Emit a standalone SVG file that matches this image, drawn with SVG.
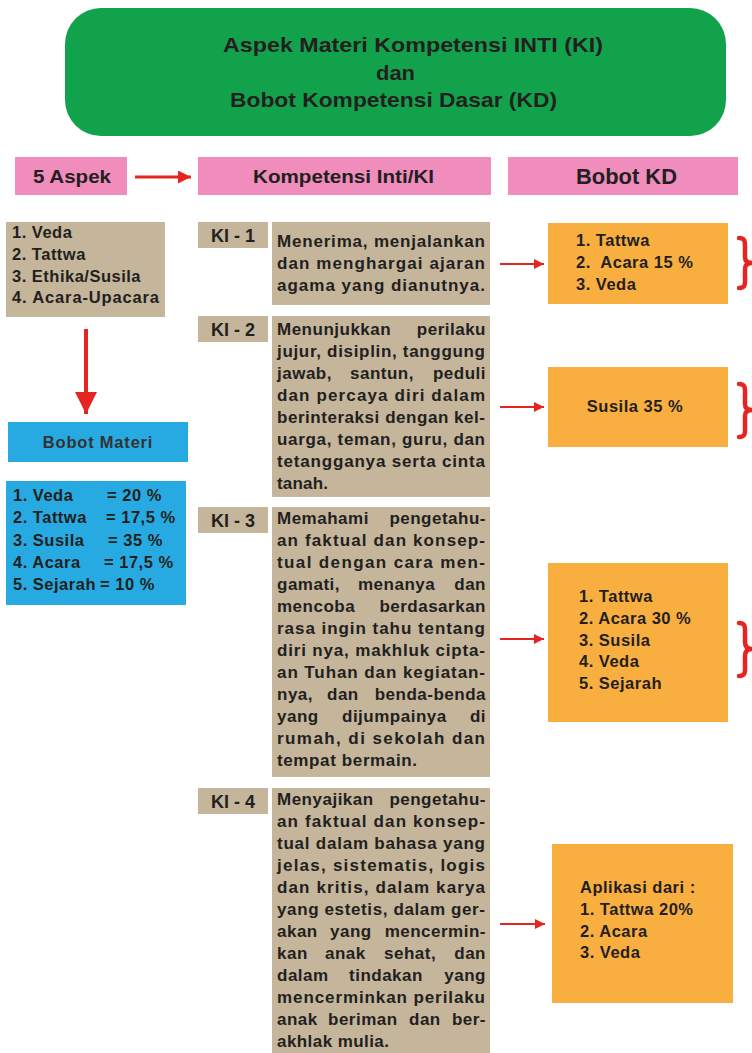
<svg xmlns="http://www.w3.org/2000/svg" width="752" height="1053" viewBox="0 0 752 1053">
<style>
.t{font-family:"Liberation Sans",Arial,Helvetica,sans-serif;font-weight:bold;fill:#231f20}
.b{font-size:16.5px}
.k{font-size:17px}
.ls{letter-spacing:0.5px}
.e{text-anchor:end}
.tan{fill:#c4b59b}
.pink{fill:#f08dbd}
.blue{fill:#27aae1}
.org{fill:#f9ae40}
.con{stroke:#e52521;fill:none}
.brace{stroke:#e52521;stroke-width:4.5;fill:none;stroke-linecap:round}
</style>
<defs>
<marker id="ah" viewBox="0 0 10 10" refX="10" refY="5" markerUnits="userSpaceOnUse" markerWidth="15" markerHeight="10" orient="auto"><path d="M0,0 L10,5 L0,10 z" fill="#e52521"/></marker>
<marker id="ahm" viewBox="0 0 10 10" refX="10" refY="5" markerUnits="userSpaceOnUse" markerWidth="19" markerHeight="13" orient="auto"><path d="M0,0 L10,5 L0,10 z" fill="#e52521"/></marker>
<marker id="ahb" viewBox="0 0 10 10" refX="10" refY="5" markerUnits="userSpaceOnUse" markerWidth="42" markerHeight="22" orient="auto"><path d="M0,0 L10,5 L0,10 z" fill="#e52521"/></marker>
</defs>
<rect width="752" height="1053" fill="#ffffff"/>

<g id="title">
<rect x="65" y="8" width="661" height="128" rx="36" ry="36" fill="#12a24c"/>
<text class="t" x="223" y="52" font-size="20.5" textLength="380" lengthAdjust="spacingAndGlyphs">Aspek Materi Kompetensi INTI (KI)</text>
<text class="t" x="376" y="80" font-size="20.5" textLength="39" lengthAdjust="spacingAndGlyphs">dan</text>
<text class="t" x="230" y="107" font-size="20.5" textLength="327" lengthAdjust="spacingAndGlyphs">Bobot Kompetensi Dasar (KD)</text>
</g>

<g id="hdr-aspek">
<rect class="pink" x="15" y="157" width="112" height="38"/>
<text class="t" x="33" y="183" font-size="18" textLength="78" lengthAdjust="spacingAndGlyphs">5 Aspek</text>
</g>
<g id="hdr-ki">
<rect class="pink" x="198" y="157" width="293" height="38"/>
<text class="t" x="253" y="183" font-size="18" textLength="181" lengthAdjust="spacingAndGlyphs">Kompetensi Inti/KI</text>
</g>
<g id="hdr-kd">
<rect class="pink" x="508" y="157" width="230" height="38"/>
<text class="t" x="576" y="184" font-size="21.5" textLength="101" lengthAdjust="spacingAndGlyphs">Bobot KD</text>
</g>

<g id="aspek-list">
<rect class="tan" x="6" y="222" width="159" height="95"/>
<text class="t b ls" x="12" y="238">1. Veda</text>
<text class="t b ls" x="12" y="260">2. Tattwa</text>
<text class="t b ls" x="12" y="282">3. Ethika/Susila</text>
<text class="t b" x="12" y="303" textLength="147">4. Acara-Upacara</text>
</g>

<g id="bobot-materi">
<rect class="blue" x="8" y="422" width="180" height="40"/>
<text class="t b" x="98" y="448" text-anchor="middle" letter-spacing="0.8" style="fill:#333333">Bobot Materi</text>
</g>

<g id="bobot-list">
<rect class="blue" x="6" y="481" width="180" height="124"/>
<text class="t b ls" x="13" y="501">1. Veda</text><text class="t b ls" x="107" y="501">= 20 %</text>
<text class="t b ls" x="13" y="523">2. Tattwa</text><text class="t b ls" x="106" y="523">= 17,5 %</text>
<text class="t b ls" x="13" y="546">3. Susila</text><text class="t b ls" x="108" y="546">= 35 %</text>
<text class="t b ls" x="13" y="568">4. Acara</text><text class="t b ls" x="104" y="568">= 17,5 %</text>
<text class="t b ls" x="13" y="590">5. Sejarah</text><text class="t b ls" x="100" y="590">= 10 %</text>
</g>

<g id="ki1-label"><rect class="tan" x="198" y="222" width="70" height="26"/><text class="t" x="233" y="242" font-size="18" text-anchor="middle">KI - 1</text></g>
<g id="ki2-label"><rect class="tan" x="198" y="316" width="70" height="26"/><text class="t" x="233" y="336" font-size="18" text-anchor="middle">KI - 2</text></g>
<g id="ki3-label"><rect class="tan" x="198" y="507" width="70" height="26"/><text class="t" x="233" y="527" font-size="18" text-anchor="middle">KI - 3</text></g>
<g id="ki4-label"><rect class="tan" x="198" y="788" width="70" height="26"/><text class="t" x="233" y="808" font-size="18" text-anchor="middle">KI - 4</text></g>

<g id="ki1-text">
<rect class="tan" x="272" y="222" width="218" height="83"/>
<text class="t k" x="277" y="247" textLength="208">Menerima, menjalankan</text>
<text class="t k" x="277" y="269" textLength="208">dan menghargai ajaran</text>
<text class="t k" x="277" y="291" textLength="208">agama yang dianutnya.</text>
</g>

<g id="ki2-text">
<rect class="tan" x="272" y="316" width="218" height="181"/>
<text class="t k ls" x="277" y="335">Menunjukkan</text><text class="t k ls e" x="486" y="335">perilaku</text>
<text class="t k" x="277" y="357" textLength="208">jujur, disiplin, tanggung</text>
<text class="t k ls" x="277" y="379">jawab,</text><text class="t k ls" x="350" y="379">santun,</text><text class="t k ls e" x="486" y="379">peduli</text>
<text class="t k" x="277" y="401" textLength="208">dan percaya diri dalam</text>
<text class="t k" x="277" y="423" textLength="208">berinteraksi dengan kel-</text>
<text class="t k" x="277" y="445" textLength="208">uarga, teman, guru, dan</text>
<text class="t k" x="277" y="467" textLength="208">tetangganya serta cinta</text>
<text class="t k" x="277" y="489" textLength="51">tanah.</text>
</g>

<g id="ki3-text">
<rect class="tan" x="272" y="507" width="218" height="270"/>
<text class="t k ls" x="277" y="524">Memahami</text><text class="t k ls e" x="486" y="524">pengetahu-</text>
<text class="t k" x="277" y="546" textLength="208">an faktual dan konsep-</text>
<text class="t k" x="277" y="568" textLength="208">tual dengan cara men-</text>
<text class="t k ls" x="277" y="590">gamati,</text><text class="t k ls" x="358" y="590">menanya</text><text class="t k ls e" x="486" y="590">dan</text>
<text class="t k ls" x="277" y="612">mencoba</text><text class="t k ls e" x="486" y="612">berdasarkan</text>
<text class="t k" x="277" y="634" textLength="208">rasa ingin tahu tentang</text>
<text class="t k" x="277" y="656" textLength="208">diri nya, makhluk cipta-</text>
<text class="t k" x="277" y="678" textLength="208">an Tuhan dan kegiatan-</text>
<text class="t k ls" x="277" y="700">nya,</text><text class="t k ls" x="327" y="700">dan</text><text class="t k ls e" x="486" y="700">benda-benda</text>
<text class="t k ls" x="277" y="722">yang</text><text class="t k ls" x="342" y="722">dijumpainya</text><text class="t k ls e" x="486" y="722">di</text>
<text class="t k" x="277" y="744" textLength="208">rumah, di sekolah dan</text>
<text class="t k" x="277" y="766" textLength="140">tempat bermain.</text>
</g>

<g id="ki4-text">
<rect class="tan" x="272" y="788" width="218" height="265"/>
<text class="t k ls" x="277" y="805">Menyajikan</text><text class="t k ls e" x="486" y="805">pengetahu-</text>
<text class="t k" x="277" y="827" textLength="208">an faktual dan konsep-</text>
<text class="t k" x="277" y="849" textLength="208">tual dalam bahasa yang</text>
<text class="t k" x="277" y="871" textLength="208">jelas, sistematis, logis</text>
<text class="t k" x="277" y="893" textLength="208">dan kritis, dalam karya</text>
<text class="t k" x="277" y="915" textLength="208">yang estetis, dalam ger-</text>
<text class="t k ls" x="277" y="937">akan</text><text class="t k ls" x="330" y="937">yang</text><text class="t k ls e" x="486" y="937">mencermin-</text>
<text class="t k ls" x="277" y="959">kan</text><text class="t k ls" x="325" y="959">anak</text><text class="t k ls" x="384" y="959">sehat,</text><text class="t k ls e" x="486" y="959">dan</text>
<text class="t k ls" x="277" y="981">dalam</text><text class="t k ls" x="349" y="981">tindakan</text><text class="t k ls e" x="486" y="981">yang</text>
<text class="t k" x="277" y="1003" textLength="208">mencerminkan perilaku</text>
<text class="t k ls" x="277" y="1025">anak</text><text class="t k ls" x="328" y="1025">beriman</text><text class="t k ls" x="409" y="1025">dan</text><text class="t k ls e" x="486" y="1025">ber-</text>
<text class="t k" x="277" y="1047" textLength="112">akhlak mulia.</text>
</g>

<g id="kd1">
<rect class="org" x="548" y="223" width="180" height="81"/>
<text class="t b ls" x="576" y="246">1. Tattwa</text>
<text class="t b ls" x="576" y="268" xml:space="preserve">2.  Acara 15 %</text>
<text class="t b ls" x="576" y="290">3. Veda</text>
</g>
<g id="kd2">
<rect class="org" x="548" y="367" width="180" height="80"/>
<text class="t b ls" x="635" y="412" text-anchor="middle">Susila 35 %</text>
</g>
<g id="kd3">
<rect class="org" x="548" y="563" width="180" height="159"/>
<text class="t b ls" x="579" y="602">1. Tattwa</text>
<text class="t b ls" x="579" y="624">2. Acara 30 %</text>
<text class="t b ls" x="579" y="646">3. Susila</text>
<text class="t b ls" x="579" y="667">4. Veda</text>
<text class="t b ls" x="579" y="689">5. Sejarah</text>
</g>
<g id="kd4">
<rect class="org" x="552" y="844" width="181" height="159"/>
<text class="t b ls" x="580" y="893">Aplikasi dari :</text>
<text class="t b ls" x="580" y="915">1. Tattwa 20%</text>
<text class="t b ls" x="580" y="937">2. Acara</text>
<text class="t b ls" x="580" y="958">3. Veda</text>
</g>

<g id="braces">
<path class="brace" d="M739,238 C746,238 745,243 745,250 L745,257 C745,261 747,263 752,263 C747,263 745,265 745,269 L745,277 C745,284 746,288 739,288"/>
<path class="brace" d="M739,384 C746,384 745,389 745,396 L745,404 C745,408 747,410 752,410 C747,410 745,412 745,416 L745,425 C745,432 746,437 739,437"/>
<path class="brace" d="M739,623 C746,623 745,628 745,635 L745,642 C745,646 747,649 752,649 C747,649 745,652 745,656 L745,664 C745,671 746,676 739,676"/>
</g>

<g id="connectors">
<line class="con" x1="135" y1="177" x2="191" y2="177" stroke-width="3" marker-end="url(#ahm)"/>
<line class="con" x1="86" y1="329" x2="86" y2="414" stroke-width="4" marker-end="url(#ahb)"/>
<line class="con" x1="500" y1="264" x2="544" y2="264" stroke-width="2.2" marker-end="url(#ah)"/>
<line class="con" x1="500" y1="407" x2="544" y2="407" stroke-width="2.2" marker-end="url(#ah)"/>
<line class="con" x1="500" y1="639" x2="544" y2="639" stroke-width="2" marker-end="url(#ah)"/>
<line class="con" x1="500" y1="924" x2="545" y2="924" stroke-width="2.2" marker-end="url(#ah)"/>
</g>
</svg>
